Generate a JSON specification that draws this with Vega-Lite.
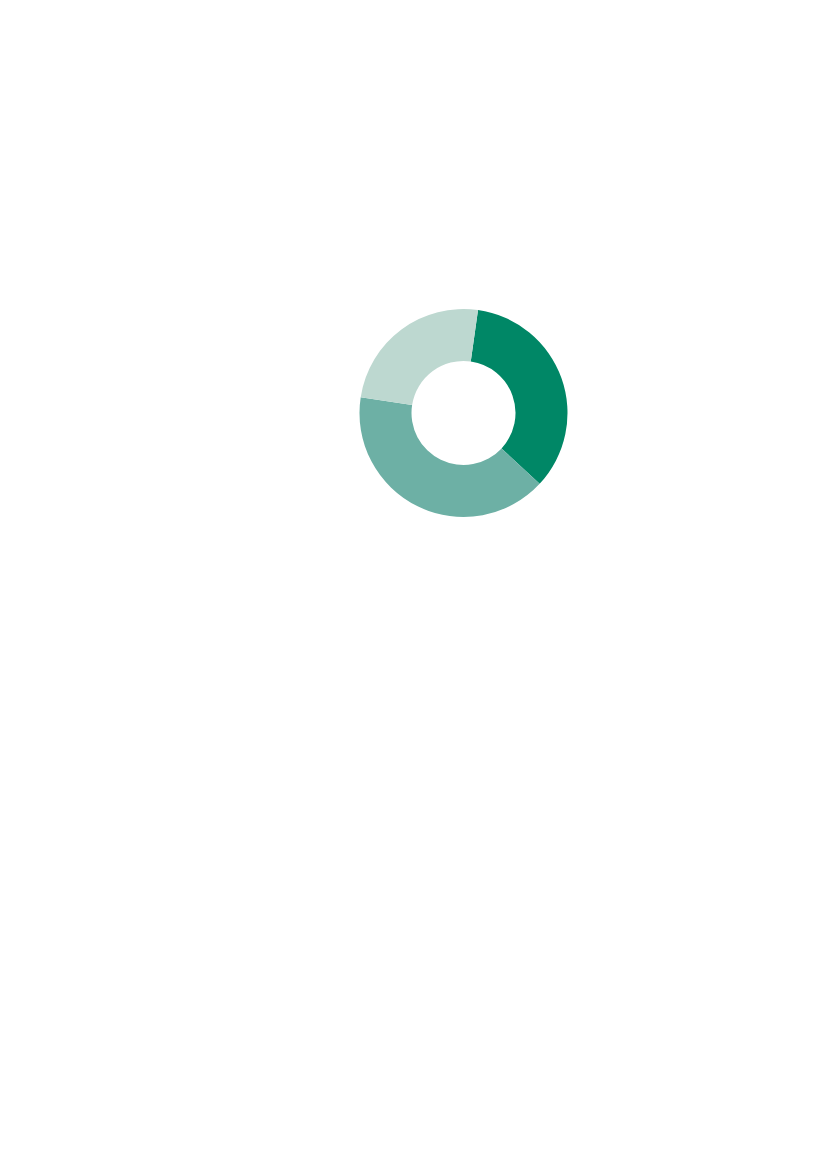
{
  "$schema": "https://vega.github.io/schema/vega-lite/v6.json",
  "width": 727,
  "height": 826,
  "autosize": "none",
  "padding": {"left": 100, "top": 0, "right": 0, "bottom": 343},
  "background": "white",
  "config": {"view": {"stroke": null}},
  "data": {
    "values": [
      {"segment": "A", "share": 34.7, "rank": 1},
      {"segment": "B", "share": 40.5, "rank": 2},
      {"segment": "C", "share": 24.8, "rank": 3}
    ]
  },
  "mark": {"type": "arc", "radius": 104, "innerRadius": 52},
  "encoding": {
    "theta": {
      "field": "share",
      "type": "quantitative",
      "stack": true,
      "scale": {"range": [0.14, 6.4232]}
    },
    "order": {"field": "rank", "type": "quantitative"},
    "color": {
      "field": "segment",
      "type": "nominal",
      "scale": {
        "domain": ["A", "B", "C"],
        "range": ["#008766", "#6db0a5", "#bdd8d0"]
      },
      "legend": null
    }
  }
}
